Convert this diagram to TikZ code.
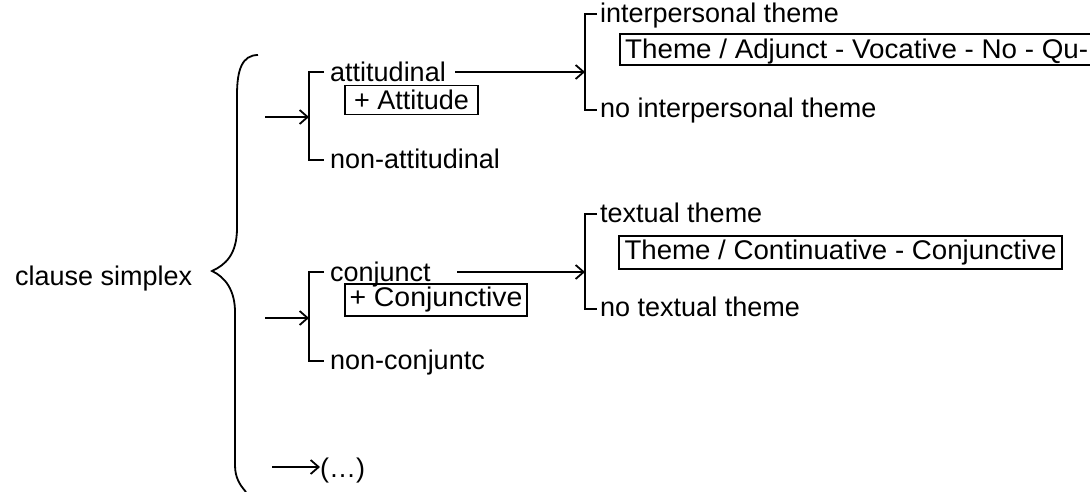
\documentclass[tikz,border=0pt]{standalone}
\usepackage{fontspec}
\setmainfont{Liberation Sans}
\usepackage{graphicx}
\usetikzlibrary{arrows.meta}
\newcommand\fitw[2]{\resizebox{#1pt}{\height}{#2}}
\begin{document}
\begin{tikzpicture}[x=1pt,y=-1pt,
  lbl/.style={font=\fontsize{27}{30}\selectfont, inner sep=0pt, anchor=base west},
  ln/.style={line width=1.8pt},
  arr/.style={ln,-{Straight Barb[length=8pt,width=14pt,line width=1.8pt]}},
  featbox/.style={draw,line width=1.8pt,inner sep=0pt,font=\fontsize{27}{30}\selectfont}]
\clip (0,0) rectangle (1090,491);
\fill[white] (0,0) rectangle (1090,491);

% labels
\node[lbl] (cs) at (15,285) {clause simplex};
\node[lbl] (att) at (330,81) {attitudinal};
\node[lbl] (natt) at (330,168) {non-attitudinal};
\node[lbl] (ipt) at (600,22) {interpersonal theme};
\node[lbl] (nipt) at (600,117) {no interpersonal theme};
\node[lbl] (conj) at (330,281) {conjunct};
\node[lbl] (nconj) at (330,369) {non-conjuntc};
\node[lbl] (txt) at (600,222) {textual theme};
\node[lbl] (ntxt) at (600,316) {no textual theme};
\node[lbl] (etc) at (320,477) {(\dots)};

% feature boxes
\node[featbox,minimum width=133pt,minimum height=29pt] (attbox) at (411.5,100) {+ Attitude};
\node[featbox,minimum width=182pt,minimum height=32pt] (conjbox) at (436,300) {\fitw{173}{+ Conjunctive}};
\draw[ln] (620,34) rectangle (1100,65);
\node[lbl] (iptbox) at (625,58) {\fitw{463}{Theme / Adjunct - Vocative - No - Qu-}};
\node[featbox,minimum width=443pt,minimum height=33pt] (txtbox) at (840.5,252.5) {\fitw{432}{Theme / Continuative - Conjunctive}};

% brace
\draw[ln] (258,55) .. controls (242,55) and (237,70) .. (237,95) -- (237,228)
  .. controls (237,255) and (225,265) .. (212,271)
  .. controls (225,277) and (235,290) .. (235,312) -- (235,465)
  .. controls (235,478) and (240,485) .. (246,492);

% system 1: attitudinal
\coordinate (s1t) at (309,72);
\coordinate (s1b) at (309,160);
\coordinate (s1m) at (309,117);
\coordinate (s1in) at (265,117);
\draw[ln] ([xshift=-6pt]att.west |- s1t) -- (s1t) -- (s1b) -- ([xshift=-6pt]natt.west |- s1b);
\draw[arr] (s1in) -- (s1m);

% system 2: interpersonal theme
\coordinate (s2t) at (585,14);
\coordinate (s2b) at (585,110);
\coordinate (s2m) at (585,72);
\coordinate (s2in) at (455,72);
\draw[ln] ([xshift=-3pt]ipt.west |- s2t) -- (s2t) -- (s2b) -- ([xshift=-3pt]nipt.west |- s2b);
\draw[arr] (s2in) -- (s2m);

% system 3: conjunct
\coordinate (s3t) at (309,272);
\coordinate (s3b) at (309,361);
\coordinate (s3m) at (309,318);
\coordinate (s3in) at (265,318);
\draw[ln] ([xshift=-6pt]conj.west |- s3t) -- (s3t) -- (s3b) -- ([xshift=-6pt]nconj.west |- s3b);
\draw[arr] (s3in) -- (s3m);

% system 4: textual theme
\coordinate (s4t) at (585,214);
\coordinate (s4b) at (585,309);
\coordinate (s4m) at (585,272);
\coordinate (s4in) at (457,272);
\draw[ln] ([xshift=-3pt]txt.west |- s4t) -- (s4t) -- (s4b) -- ([xshift=-3pt]ntxt.west |- s4b);
\draw[arr] (s4in) -- (s4m);

% system 5: (...)
\coordinate (s5in) at (272,467);
\draw[arr] (s5in) -- (etc.west |- s5in);
\end{tikzpicture}
\end{document}
